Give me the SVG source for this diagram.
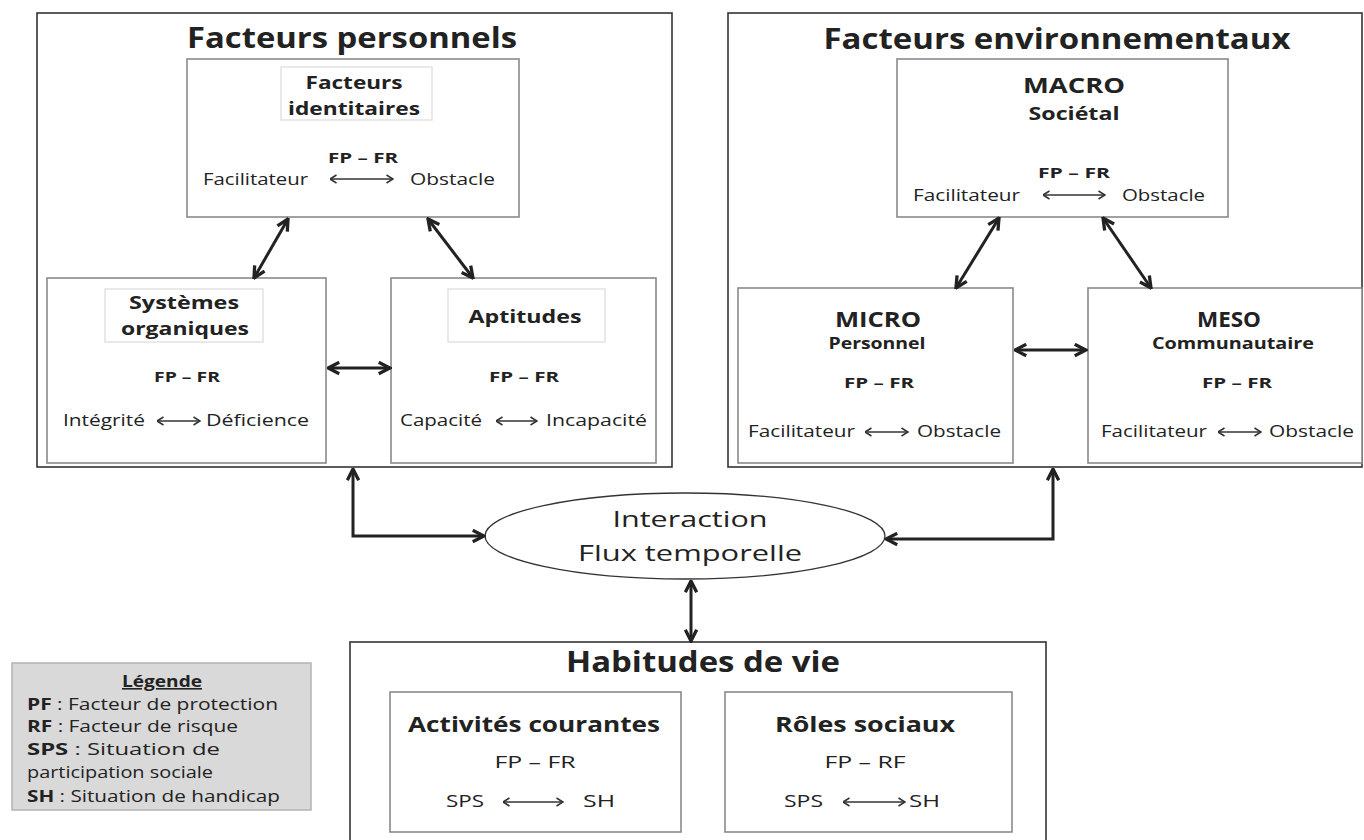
<svg xmlns="http://www.w3.org/2000/svg" width="1364" height="840" viewBox="0 0 1364 840">
<style>
text{font-family:"Open Sans","Liberation Sans",sans-serif;fill:#222;}
.t{font-size:28px;font-weight:700;text-anchor:middle;}
.h{font-size:18px;font-weight:700;text-anchor:middle;}
.hm{font-size:22px;font-weight:700;text-anchor:middle;}
.s{font-size:16px;font-weight:700;text-anchor:middle;}
.fp{font-size:15px;font-weight:700;text-anchor:middle;}
.r{font-size:16px;font-weight:400;}
.outer{fill:#fff;stroke:#333;stroke-width:1.6;}
.inner{fill:#fff;stroke:#8a8a8a;stroke-width:1.6;}
.lab{fill:#fff;stroke:#e2e2e2;stroke-width:1.5;}
.con{fill:none;stroke:#222;stroke-width:3;marker-start:url(#ah);marker-end:url(#ah);}
.thin{fill:none;stroke:#333;stroke-width:1.5;marker-start:url(#th);marker-end:url(#th);}
.el{font-size:21px;font-weight:400;text-anchor:middle;}
.hv{font-size:21px;font-weight:700;text-anchor:middle;}
.hr{font-size:17px;font-weight:400;}
.lg{font-size:16px;font-weight:400;}
.lgb{font-size:16px;font-weight:700;text-anchor:middle;text-decoration:underline;}
</style>
<defs>
<marker id="ah" viewBox="0 0 10 10" refX="9" refY="5" markerWidth="5" markerHeight="5" orient="auto-start-reverse">
<path d="M1.5,1.2 L9,5 L1.5,8.8" fill="none" stroke="#222" stroke-width="2.2" stroke-linejoin="miter"/>
</marker>
<marker id="th" viewBox="0 0 10 10" refX="9.5" refY="5" markerWidth="10" markerHeight="10" markerUnits="userSpaceOnUse" orient="auto-start-reverse">
<path d="M3,1 L9.5,5 L3,9" fill="none" stroke="#333" stroke-width="1.5"/>
</marker>
</defs>
<rect width="1364" height="840" fill="#fff"/>

<g id="facteurs-personnels">
<rect class="outer" x="37" y="13" width="635" height="454"/>
<text class="t" x="352" y="48" textLength="330" lengthAdjust="spacingAndGlyphs">Facteurs personnels</text>
</g>

<g id="facteurs-identitaires">
<rect class="inner" x="187" y="59" width="332" height="158"/>
<rect class="lab" x="281" y="67" width="151" height="53"/>
<text class="h" x="354" y="89" textLength="97" lengthAdjust="spacingAndGlyphs">Facteurs</text>
<text class="h" x="354" y="115" textLength="132" lengthAdjust="spacingAndGlyphs">identitaires</text>
<text class="fp" x="363" y="163" textLength="70" lengthAdjust="spacingAndGlyphs">FP – FR</text>
<text class="r" x="203" y="185" textLength="105" lengthAdjust="spacingAndGlyphs">Facilitateur</text>
<path class="thin" d="M330,179 H393"/>
<text class="r" x="410" y="185" textLength="85" lengthAdjust="spacingAndGlyphs">Obstacle</text>
</g>

<g id="systemes-organiques">
<rect class="inner" x="47" y="278" width="279" height="185"/>
<rect class="lab" x="105" y="289" width="158" height="53"/>
<text class="h" x="184" y="309" textLength="110" lengthAdjust="spacingAndGlyphs">Systèmes</text>
<text class="h" x="185" y="335" textLength="128" lengthAdjust="spacingAndGlyphs">organiques</text>
<text class="fp" x="187" y="382" textLength="66" lengthAdjust="spacingAndGlyphs">FP – FR</text>
<text class="r" x="63" y="426" textLength="82" lengthAdjust="spacingAndGlyphs">Intégrité</text>
<path class="thin" d="M157,421 H200"/>
<text class="r" x="206" y="426" textLength="103" lengthAdjust="spacingAndGlyphs">Déficience</text>
</g>

<g id="aptitudes">
<rect class="inner" x="391" y="278" width="265" height="185"/>
<rect class="lab" x="448" y="289" width="157" height="53"/>
<text class="h" x="525" y="323" textLength="113" lengthAdjust="spacingAndGlyphs">Aptitudes</text>
<text class="fp" x="524" y="382" textLength="70" lengthAdjust="spacingAndGlyphs">FP – FR</text>
<text class="r" x="400" y="426" textLength="82" lengthAdjust="spacingAndGlyphs">Capacité</text>
<path class="thin" d="M496,421 H537"/>
<text class="r" x="546" y="426" textLength="101" lengthAdjust="spacingAndGlyphs">Incapacité</text>
</g>

<g id="facteurs-environnementaux">
<rect class="outer" x="728" y="13" width="634" height="454"/>
<text class="t" x="1057" y="49" textLength="467" lengthAdjust="spacingAndGlyphs">Facteurs environnementaux</text>
</g>

<g id="macro">
<rect class="inner" x="897" y="59" width="331" height="158"/>
<text class="hm" x="1074" y="93" textLength="102" lengthAdjust="spacingAndGlyphs">MACRO</text>
<text class="h" x="1074" y="120" textLength="91" lengthAdjust="spacingAndGlyphs">Sociétal</text>
<text class="fp" x="1074" y="178" textLength="72" lengthAdjust="spacingAndGlyphs">FP – FR</text>
<text class="r" x="913" y="201" textLength="107" lengthAdjust="spacingAndGlyphs">Facilitateur</text>
<path class="thin" d="M1043,195 H1105"/>
<text class="r" x="1122" y="201" textLength="83" lengthAdjust="spacingAndGlyphs">Obstacle</text>
</g>

<g id="micro">
<rect class="inner" x="738" y="288" width="275" height="175"/>
<text class="hm" x="878" y="327" textLength="86" lengthAdjust="spacingAndGlyphs">MICRO</text>
<text class="s" x="877" y="349" textLength="97" lengthAdjust="spacingAndGlyphs">Personnel</text>
<text class="fp" x="879" y="388" textLength="70" lengthAdjust="spacingAndGlyphs">FP – FR</text>
<text class="r" x="748" y="437" textLength="107" lengthAdjust="spacingAndGlyphs">Facilitateur</text>
<path class="thin" d="M865,432 H908"/>
<text class="r" x="917" y="437" textLength="84" lengthAdjust="spacingAndGlyphs">Obstacle</text>
</g>

<g id="meso">
<rect class="inner" x="1088" y="288" width="274" height="175"/>
<text class="hm" x="1229" y="327" textLength="64" lengthAdjust="spacingAndGlyphs">MESO</text>
<text class="s" x="1233" y="349" textLength="162" lengthAdjust="spacingAndGlyphs">Communautaire</text>
<text class="fp" x="1237" y="388" textLength="70" lengthAdjust="spacingAndGlyphs">FP – FR</text>
<text class="r" x="1101" y="437" textLength="106" lengthAdjust="spacingAndGlyphs">Facilitateur</text>
<path class="thin" d="M1218,432 H1261"/>
<text class="r" x="1269" y="437" textLength="85" lengthAdjust="spacingAndGlyphs">Obstacle</text>
</g>

<g id="interaction">
<ellipse cx="685" cy="536" rx="200" ry="43" fill="#fff" stroke="#333" stroke-width="1.3"/>
<text class="el" x="690" y="527" textLength="155" lengthAdjust="spacingAndGlyphs">Interaction</text>
<text class="el" x="690" y="561" textLength="224" lengthAdjust="spacingAndGlyphs">Flux temporelle</text>
</g>

<g id="habitudes-de-vie">
<rect class="outer" x="350" y="642" width="696" height="210"/>
<text class="t" x="703" y="672" font-size="27" textLength="274" lengthAdjust="spacingAndGlyphs">Habitudes de vie</text>
</g>

<g id="activites-courantes">
<rect class="inner" x="390" y="692" width="291" height="140"/>
<text class="hv" x="534" y="732" textLength="252" lengthAdjust="spacingAndGlyphs">Activités courantes</text>
<text class="hr" x="535" y="768" text-anchor="middle" textLength="81" lengthAdjust="spacingAndGlyphs">FP – FR</text>
<text class="hr" x="446" y="807" textLength="38" lengthAdjust="spacingAndGlyphs">SPS</text>
<path class="thin" d="M503,802 H563"/>
<text class="hr" x="583" y="807" textLength="32" lengthAdjust="spacingAndGlyphs">SH</text>
</g>

<g id="roles-sociaux">
<rect class="inner" x="725" y="692" width="287" height="140"/>
<text class="hv" x="865" y="732" textLength="180" lengthAdjust="spacingAndGlyphs">Rôles sociaux</text>
<text class="hr" x="865" y="768" text-anchor="middle" textLength="81" lengthAdjust="spacingAndGlyphs">FP – RF</text>
<text class="hr" x="784" y="807" textLength="39" lengthAdjust="spacingAndGlyphs">SPS</text>
<path class="thin" d="M843,802 H905"/>
<text class="hr" x="909" y="807" textLength="31" lengthAdjust="spacingAndGlyphs">SH</text>
</g>

<g id="legende">
<rect x="12" y="663" width="299" height="147" fill="#d9d9d9" stroke="#b3b3b3" stroke-width="1.5"/>
<text class="lgb" x="162" y="687" textLength="80" lengthAdjust="spacingAndGlyphs">Légende</text>
<text class="lg" x="27" y="710" textLength="251" lengthAdjust="spacingAndGlyphs"><tspan font-weight="700">PF</tspan> : Facteur de protection</text>
<text class="lg" x="27" y="732" textLength="211" lengthAdjust="spacingAndGlyphs"><tspan font-weight="700">RF</tspan> : Facteur de risque</text>
<text class="lg" x="27" y="755" textLength="193" lengthAdjust="spacingAndGlyphs"><tspan font-weight="700">SPS</tspan> : Situation de</text>
<text class="lg" x="27" y="778" textLength="186" lengthAdjust="spacingAndGlyphs">participation sociale</text>
<text class="lg" x="27" y="802" textLength="253" lengthAdjust="spacingAndGlyphs"><tspan font-weight="700">SH</tspan> : Situation de handicap</text>
</g>

<g id="connecteurs">
<path class="con" d="M288,219 L254,278"/>
<path class="con" d="M428,219 L473,278"/>
<path class="con" d="M328,368 H390"/>
<path class="con" d="M999,218 L956,288"/>
<path class="con" d="M1103,218 L1151,288"/>
<path class="con" d="M1015,350 H1086"/>
<path class="con" d="M353,469 V536 H484"/>
<path class="con" d="M1053,469 V539 H886"/>
<path class="con" d="M691,581 V641"/>
</g>
</svg>
